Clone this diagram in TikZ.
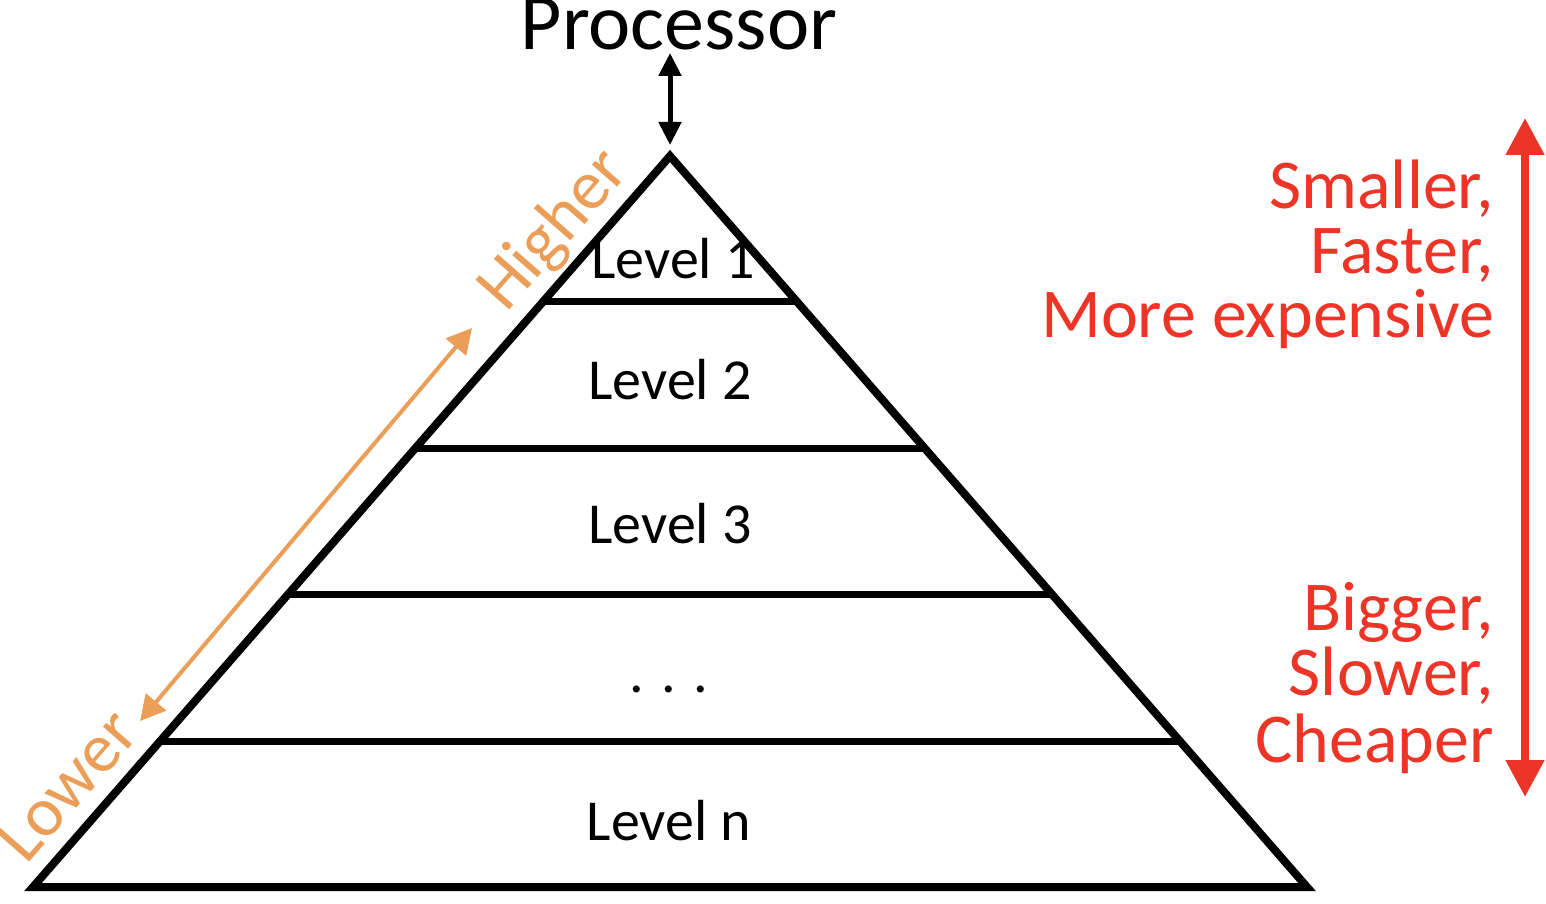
\documentclass[tikz,border=0pt]{standalone}
\usepackage{fontspec}
\setmainfont{Carlito}
\usetikzlibrary{arrows.meta,calc}
\definecolor{redc}{RGB}{236,53,38}
\definecolor{orangec}{RGB}{234,158,88}
\begin{document}
\begin{tikzpicture}[x=1pt,y=-1pt,
  lvl/.style={anchor=base,inner sep=0pt,font=\fontsize{58}{60}\selectfont},
  redtxt/.style={anchor=base east,inner sep=0pt,text=redc,font=\fontsize{70}{72}\selectfont},
  oratxt/.style={anchor=base west,inner sep=0pt,text=orangec,font=\fontsize{70}{72}\selectfont,rotate=48.7},
  edge/.style={line width=8pt,line join=miter},
  sep/.style={line width=7pt}]
\useasboundingbox (0,0) rectangle (1546,904);
% pyramid
\coordinate (A) at (670,156);
\coordinate (BL) at (33,887);
\coordinate (BR) at (1307,887);
\draw[edge] (A) -- (BL) -- (BR) -- cycle;
\foreach \t in {0.1984,0.3995,0.6005,0.8016}
  \draw[sep] ($(A)!\t!(BL)$) -- ($(A)!\t!(BR)$);
% level labels
\node[lvl] (l1) at (673,278) {Level 1};
\node[lvl] (l2) at (670,399) {Level 2};
\node[lvl] (l3) at (670,543) {Level 3};
\node[lvl] (ld) at (669,692) {. . .};
\node[lvl] (ln) at (669,840) {Level n};
% processor
\node[anchor=base,inner sep=0pt,font=\fontsize{80}{90}\selectfont] (proc) at (679,50) {Processor};
\coordinate (pa) at (670,53);
\coordinate (pb) at (670,145);
\draw[line width=5pt,{Triangle[width=22pt,length=23pt]}-{Triangle[width=22pt,length=23pt]}] (pa) -- (pb);
% red arrow and labels
\coordinate (ra) at (1525,118);
\coordinate (rb) at (1525,797);
\draw[redc,line width=8pt,{Triangle[width=37pt,length=37pt]}-{Triangle[width=37pt,length=37pt]}] (ra) -- (rb);
\node[redtxt] (s1) at (1494,208) {Smaller,};
\node[redtxt] (s2) at (1494,273) {Faster,};
\node[redtxt] (s3) at (1494,337) {More expensive};
\node[redtxt] (b1) at (1494,630) {Bigger,};
\node[redtxt] (b2) at (1494,695) {Slower,};
\node[redtxt] (b3) at (1494,762) {Cheaper};
% orange arrow and labels
\coordinate (oa) at (472,328);
\coordinate (ob) at (140,721);
\draw[orangec,line width=4pt,{Triangle[width=26pt,length=25pt]}-{Triangle[width=26pt,length=25pt]}] (oa) -- (ob);
\node[oratxt] (hi) at (506,314) {Higher};
\node[oratxt] (lo) at (26,866) {Lower};
\end{tikzpicture}
\end{document}
